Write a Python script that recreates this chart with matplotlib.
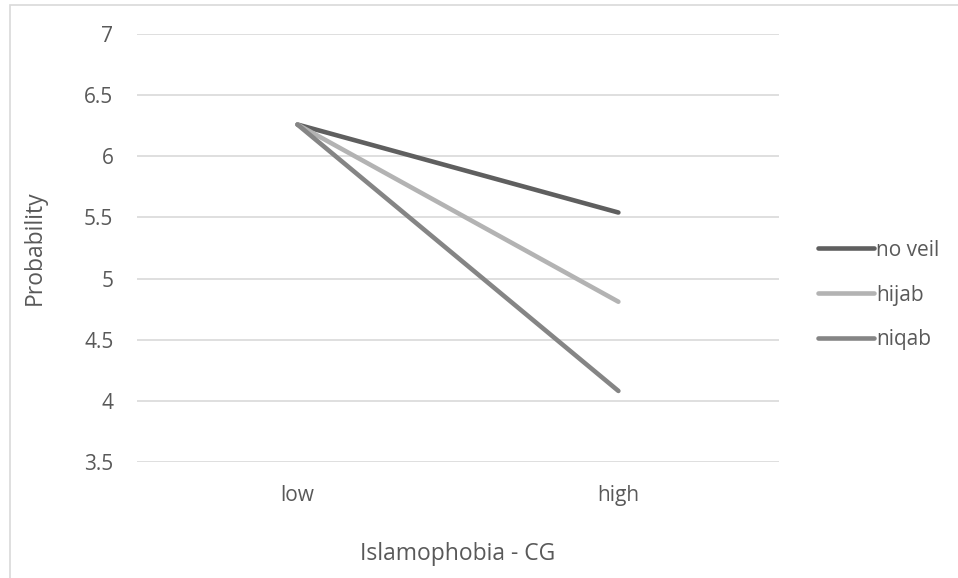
import matplotlib

matplotlib.use("Agg")
import matplotlib.pyplot as plt
from matplotlib.patches import Rectangle

categories = ["low", "high"]
series_names = ["no veil", "hijab", "niqab"]
no_veil = [6.26, 5.54]
hijab = [6.26, 4.81]
niqab = [6.26, 4.08]
y_ticks = [3.5, 4, 4.5, 5, 5.5, 6, 6.5, 7]

colors = ["#5f5f5f", "#b3b3b3", "#858585"]
text_color = "#595959"

plt.rcParams["font.family"] = ["Open Sans", "DejaVu Sans"]

fig = plt.figure(figsize=(9.58, 5.78), dpi=100)
ax = fig.add_axes([0.143, 0.201, 0.670, 0.740])

x = list(range(len(categories)))
for name, vals, c in zip(series_names, [no_veil, hijab, niqab], colors):
    ax.plot(x, vals, color=c, lw=3.3, solid_capstyle="round", label=name)

ax.set_xlim(-0.5, 1.5)
ax.set_ylim(3.5, 7)
ax.set_yticks(y_ticks)
ax.set_yticklabels([f"{v:g}" for v in y_ticks])
ax.set_xticks(x)
ax.set_xticklabels(categories)
ax.grid(True, axis="y", color="#d9d9d9", lw=1.2)
ax.set_axisbelow(True)
for s in ax.spines.values():
    s.set_visible(False)
ax.tick_params(length=0, labelsize=15, colors=text_color)
ax.tick_params(axis="y", pad=17)
ax.tick_params(axis="x", pad=17)

ax.set_xlabel("Islamophobia - CG", fontsize=16.5, color=text_color)
ax.set_ylabel("Probability", fontsize=16.5, color=text_color)
ax.xaxis.set_label_coords(0.5, -0.188)
ax.yaxis.set_label_coords(-0.14, 0.5)

leg = fig.legend(loc="center left", bbox_to_anchor=(818 / 958, 1 - 295 / 578),
                 frameon=False, fontsize=15, handlelength=2.7, handletextpad=0.1,
                 labelspacing=1.15, borderaxespad=0, borderpad=0)
for t in leg.get_texts():
    t.set_color(text_color)

# chart-area frame: only left and top edges fall inside the picture
fig.patches.append(Rectangle((10 / 958, -1), 2, 2 - 5 / 578, transform=fig.transFigure,
                             fill=False, edgecolor="#d9d9d9", lw=1.2))

fig.savefig("out.png", dpi=100)
